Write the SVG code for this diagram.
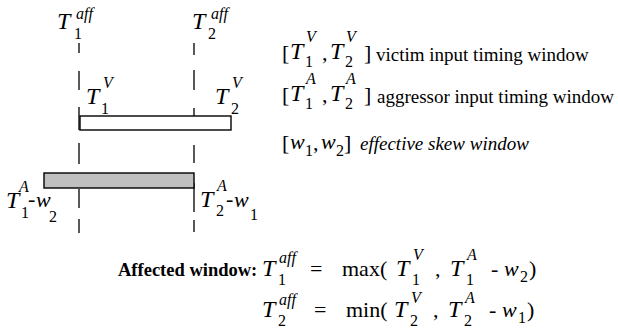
<svg xmlns="http://www.w3.org/2000/svg" width="618" height="328" viewBox="0 0 618 328">
<style>
text{font-family:"Liberation Serif","Times New Roman",serif;fill:#000}
.T{font-size:24px;font-style:italic}
.w{font-size:22px;font-style:italic}
.s{font-size:16px}
.si{font-size:16px;font-style:italic}
.r{font-size:22px}
.lg{font-size:19px}
.lgi{font-size:19px;font-style:italic}
.b{font-size:18.5px;font-weight:bold}
.d{stroke:#000;stroke-width:1.3;fill:none}
</style>
<rect width="618" height="328" fill="#fff"/>
<g id="connectors">
<path class="d" d="M79 43V53M79 71V90M79 107V130M79 143V164M79 189V208M79 219V233"/>
<path class="d" d="M194 43V55M194 70V90M194 108V130M194 145V163M194 183V212M194 220V232"/>
</g>
<g id="victim-window">
<rect x="80" y="116" width="151" height="14" fill="#fff" stroke="#000" stroke-width="1.4"/>
</g>
<g id="aggressor-window">
<rect x="44" y="173" width="150" height="15" fill="#c0c0c0" stroke="#000" stroke-width="1.4"/>
</g>
<g id="t1aff-label">
<text class="T" x="57" y="29">T</text><text class="si" x="76" y="19">aff</text><text class="s" x="74" y="39">1</text>
</g>
<g id="t2aff-label">
<text class="T" x="192" y="29">T</text><text class="si" x="211" y="19">aff</text><text class="s" x="208" y="39">2</text>
</g>
<g id="t1v-label">
<text class="T" x="86" y="104">T</text><text class="si" x="103" y="88">V</text><text class="s" x="101" y="114">1</text>
</g>
<g id="t2v-label">
<text class="T" x="215" y="104">T</text><text class="si" x="232" y="88">V</text><text class="s" x="231" y="114">2</text>
</g>
<g id="t1a-w2-label">
<text class="T" x="6" y="208">T</text><text class="si" x="19" y="192">A</text><text class="s" x="21" y="218">1</text><text class="r" x="28" y="206">-</text><text class="w" x="36" y="207">w</text><text class="s" x="49" y="222">2</text>
</g>
<g id="t2a-w1-label">
<text class="T" x="200" y="207">T</text><text class="si" x="217" y="191">A</text><text class="s" x="216" y="216">2</text><text class="r" x="226" y="206">-</text><text class="w" x="234" y="207">w</text><text class="s" x="250" y="220">1</text>
</g>
<g id="legend">
<text class="r" x="282" y="60">[</text><text class="T" x="290" y="59">T</text><text class="si" x="306" y="42">V</text><text class="s" x="305" y="67">1</text><text class="r" x="322" y="60">,</text><text class="T" x="330" y="59">T</text><text class="si" x="346" y="42">V</text><text class="s" x="345" y="67">2</text><text class="r" x="364" y="60">]</text>
<text class="lg" x="376" y="61">victim input timing window</text>
<text class="r" x="282" y="102">[</text><text class="T" x="290" y="101">T</text><text class="si" x="306" y="84">A</text><text class="s" x="305" y="109">1</text><text class="r" x="322" y="102">,</text><text class="T" x="330" y="101">T</text><text class="si" x="346" y="84">A</text><text class="s" x="345" y="109">2</text><text class="r" x="364" y="102">]</text>
<text class="lg" x="377" y="103">aggressor input timing window</text>
<text class="r" x="282" y="150">[</text><text class="w" x="290" y="149">w</text><text class="s" x="305" y="156">1</text><text class="r" x="313" y="150">,</text><text class="w" x="321" y="149">w</text><text class="s" x="336" y="156">2</text><text class="r" x="344" y="150">]</text>
<text class="lgi" x="360" y="150">effective skew window</text>
</g>
<g id="formula">
<text class="b" x="118" y="276">Affected window:</text>
<text class="T" x="262" y="276">T</text><text class="si" x="279" y="263">aff</text><text class="s" x="278" y="285">1</text>
<text class="r" x="310" y="276">=</text><text class="r" x="342" y="276">max(</text>
<text class="T" x="396" y="276">T</text><text class="si" x="413" y="260">V</text><text class="s" x="412" y="285">1</text><text class="r" x="435" y="276">,</text>
<text class="T" x="450" y="276">T</text><text class="si" x="467" y="260">A</text><text class="s" x="466" y="285">1</text><text class="r" x="491" y="276">-</text>
<text class="w" x="504" y="276">w</text><text class="s" x="520" y="282">2</text><text class="r" x="529" y="276">)</text>
<text class="T" x="262" y="317">T</text><text class="si" x="279" y="305">aff</text><text class="s" x="278" y="326">2</text>
<text class="r" x="314" y="317">=</text><text class="r" x="346" y="317">min(</text>
<text class="T" x="394" y="317">T</text><text class="si" x="411" y="303">V</text><text class="s" x="410" y="326">2</text><text class="r" x="433" y="317">,</text>
<text class="T" x="448" y="317">T</text><text class="si" x="465" y="303">A</text><text class="s" x="464" y="326">2</text><text class="r" x="489" y="317">-</text>
<text class="w" x="502" y="317">w</text><text class="s" x="518" y="323">1</text><text class="r" x="527" y="317">)</text>
</g>
</svg>
